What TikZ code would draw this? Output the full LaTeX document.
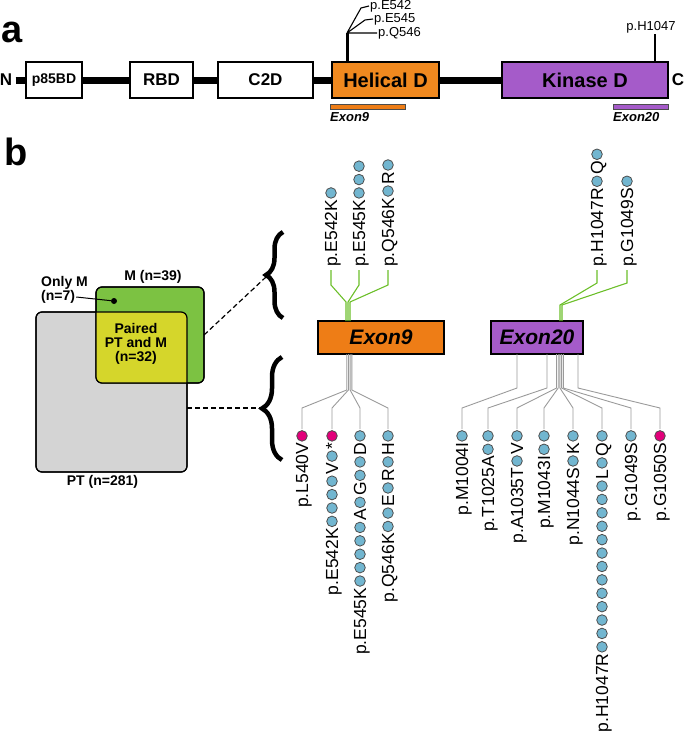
\documentclass[tikz,border=0pt]{standalone}
\usepackage{fontspec}
\setmainfont{Liberation Sans}
\usetikzlibrary{positioning,decorations.pathreplacing}

\definecolor{helorange}{HTML}{F0891F}
\definecolor{exorange}{HTML}{EE7D16}
\definecolor{kinpurple}{HTML}{A55BC9}
\definecolor{mgreen}{HTML}{7CC242}
\definecolor{pairyellow}{HTML}{D5D62B}
\definecolor{ptgray}{HTML}{D4D4D4}
\definecolor{dotblue}{HTML}{72B6D0}
\definecolor{dotpink}{HTML}{E2007A}
\definecolor{linegreen}{HTML}{6CBF2A}
\definecolor{linegray}{HTML}{9A9A9A}

% one sample = one dot
\newcommand{\bluedot}{\kern1pt\tikz[baseline=-6pt]\draw[draw=black!70,line width=0.8pt,fill=dotblue] (0,0) circle (5.3pt);\kern1pt}
\newcommand{\pinkdot}{\kern1pt\tikz[baseline=-6pt]\draw[draw=black!70,line width=0.8pt,fill=dotpink] (0,0) circle (5.3pt);\kern1pt}

\begin{document}
\begin{tikzpicture}[
% Change style
	x=1pt, y=-1pt,
	font=\fontsize{13}{15}\selectfont,
	dom/.style={draw, line width=1.2pt, minimum height=36pt, inner sep=0pt, outer sep=0pt,
		font=\fontsize{17}{19}\selectfont\bfseries},
	exbar/.style={draw=black!70, line width=0.8pt, minimum height=5pt, inner sep=0pt, outer sep=0pt, anchor=north west},
	exbox/.style={draw, line width=1.2pt, minimum height=33pt, outer sep=0pt,
		font=\fontsize{21}{23}\selectfont\bfseries\itshape},
	venn/.style={draw, line width=1.2pt, rounded corners=6pt, outer sep=0pt, inner sep=0pt},
	lab/.style={font=\fontsize{14}{14}\selectfont\bfseries, align=center},
	mutcol/.style={rotate=90, inner sep=0pt, text height=12pt, text depth=0pt,
		font=\fontsize{17.5}{19}\selectfont},
	glin/.style={linegreen, line width=1.1pt},
	ylin/.style={linegray, line width=0.9pt},
	dashln/.style={dash pattern=on 5pt off 3pt, line width=1.2pt},
	bigbrace/.style={decorate, decoration={brace, amplitude=#1}, line width=4.5pt},
	]
\useasboundingbox (0,0) rectangle (685,736);

% Panel a
\node[font=\fontsize{38}{40}\selectfont\bfseries] (lbla) at (12,32) {a};
\node[font=\fontsize{17}{19}\selectfont\bfseries] (nterm) at (6,80) {N};
\node[dom, minimum width=56pt, font=\fontsize{14}{16}\selectfont\bfseries] (p85) at (54,80) {p85BD};
\node[dom, minimum width=63pt] (rbd) at (161.5,80) {RBD};
\node[dom, minimum width=95pt] (c2d) at (265.5,80) {C2D};
\node[dom, minimum width=107pt, fill=helorange, font=\fontsize{20}{22}\selectfont\bfseries] (hel) at (385.5,80) {Helical D};
\node[dom, minimum width=166pt, fill=kinpurple, font=\fontsize{20}{22}\selectfont\bfseries] (kin) at (585,80) {Kinase D};
\node[font=\fontsize{17}{19}\selectfont\bfseries] (cterm) at (678,80) {C};

% backbone
\draw[line width=7pt] (nterm) -- (p85) (p85) -- (rbd) (rbd) -- (c2d) (c2d) -- (hel) (hel) -- (kin);

% hotspots
\draw[line width=3pt] ([xshift=-38.5pt]hel.north) -- ++(0,-29) coordinate (stem);
\node[anchor=west, inner sep=1pt] (aE542) at (369,6) {p.E542};
\node[anchor=west, inner sep=1pt] (aE545) at (373,19) {p.E545};
\node[anchor=west, inner sep=1pt] (aQ546) at (377,33) {p.Q546};
\draw[line width=1.1pt] (stem) -- ++(14,-25) -- (aE542.west)
	(stem) -- ++(18,-13) -- (aE545.west)
	(stem) -- (aQ546.west);
\node[anchor=south, inner sep=1pt] (aH1047) at (651,34) {p.H1047};
\coordinate (hspot) at (655,62);
\draw[line width=1.1pt] (hspot) -- (hspot |- aH1047.south);

% exon bars
\node[exbar, fill=exorange, minimum width=75pt] (bar9) at (330,104) {};
\node[exbar, fill=kinpurple, minimum width=55pt] (bar20) at (613,104) {};
\node[below=3pt of bar9.south west, anchor=north west, inner sep=0pt, font=\fontsize{13}{15}\selectfont\bfseries\itshape] (txt9) {Exon9};
\node[below=3pt of bar20.south west, anchor=north west, inner sep=0pt, font=\fontsize{13}{15}\selectfont\bfseries\itshape] (txt20) {Exon20};

% Panel b
\node[font=\fontsize{38}{40}\selectfont\bfseries] (lblb) at (16,152) {b};

% Venn boxes
\node[venn, fill=ptgray, minimum width=151pt, minimum height=160pt] (pt) at (111.5,392) {};
\node[venn, fill=mgreen, minimum width=108pt, minimum height=96pt] (mset) at (150,335) {};
\begin{scope}
	\clip[rounded corners=6pt] (mset.north west) rectangle (mset.south east);
	\fill[pairyellow, rounded corners=6pt] (pt.north west) rectangle (pt.south east);
\end{scope}
\draw[line width=1.2pt, rounded corners=6pt] (pt.north west) rectangle (pt.south east)
	(mset.north west) rectangle (mset.south east);

\node[lab, above=0pt of mset, xshift=3pt] (mlab) {M (n=39)};
\node[lab, below=0pt of pt, xshift=-9pt] (ptlab) {PT (n=281)};
\node[lab] (pairlab) at (136,344) {Paired\\PT and M\\(n=32)};
\node[lab, anchor=west, inner sep=0pt] (onlyM) at (41,283) {Only M};
\node[lab, anchor=west, inner sep=0pt] (onlyn) at (41,297) {(n=7)};
\node[circle, fill, inner sep=0pt, minimum size=6pt] (onlydot) at (114,301) {};
\draw[line width=1pt] ([xshift=1pt]onlyn.east) -- (onlydot);

% braces
\draw[bigbrace=17pt] (283,318) -- (283,232);
\draw[bigbrace=20pt] (282,460) -- (282,357);
\coordinate (tipM) at (266,277);
\coordinate (tipPT) at (262,408);
\draw[dashln] (mset.east) -- (tipM);
\draw[dashln] (tipPT -| pt.east) -- (tipPT);

% Exon boxes
\node[exbox, fill=exorange, minimum width=126pt] (ex9) at (381,337.5) {Exon9};
\node[exbox, fill=kinpurple, minimum width=92pt] (ex20) at (537,337.5) {Exon20};

% metastasis mutations (above)
\node[mutcol, anchor=west, inner xsep=3pt] (up542) at (331,270) {p.E542K\bluedot};
\node[mutcol, anchor=west, inner xsep=3pt] (up545) at (359,270) {p.E545K\bluedot\bluedot\bluedot};
\node[mutcol, anchor=west, inner xsep=3pt] (up546) at (388,270) {p.Q546K\bluedot R\bluedot};
\node[mutcol, anchor=west, inner xsep=3pt] (up1047) at (597,270) {p.H1047R\bluedot Q\bluedot};
\node[mutcol, anchor=west, inner xsep=3pt] (up1049) at (627,270) {p.G1049S\bluedot};

\foreach \dx/\nm in {-35pt/up542, -33pt/up545, -31pt/up546}
	\draw[glin] ([xshift=\dx]ex9.north) -- ++(0,-19) -- ([yshift=-15pt]\nm.west) -- (\nm.west);
\foreach \dx/\nm in {23pt/up1047, 25pt/up1049}
	\draw[glin] ([xshift=\dx]ex20.north) -- ++(0,-16) -- ([yshift=-13pt]\nm.west) -- (\nm.west);

% primary tumour mutations (below)
\node[mutcol, anchor=east] (dn540) at (302,429) {p.L540V\pinkdot};
\node[mutcol, anchor=east] (dn542) at (332,429) {p.E542K\bluedot\bluedot\bluedot\bluedot V\bluedot *\pinkdot};
\node[mutcol, anchor=east] (dn545) at (360,429) {p.E545K\bluedot\bluedot\bluedot\bluedot\bluedot A\bluedot G\bluedot\bluedot D\bluedot};
\node[mutcol, anchor=east] (dn546) at (388,429) {p.Q546K\bluedot\bluedot E\bluedot R\bluedot H\bluedot};

\node[mutcol, anchor=east] (dn1004) at (462,429) {p.M1004I\bluedot};
\node[mutcol, anchor=east] (dn1025) at (488,429) {p.T1025A\bluedot\bluedot};
\node[mutcol, anchor=east] (dn1035) at (517,429) {p.A1035T\bluedot V\bluedot};
\node[mutcol, anchor=east] (dn1043) at (544,429) {p.M1043I\bluedot\bluedot};
\node[mutcol, anchor=east] (dn1044) at (573,429) {p.N1044S\bluedot K\bluedot};
\node[mutcol, anchor=east] (dn1047) at (602,429) {p.H1047R\bluedot\bluedot\bluedot\bluedot\bluedot\bluedot\bluedot\bluedot\bluedot\bluedot\bluedot\bluedot\bluedot L\bluedot Q\bluedot};
\node[mutcol, anchor=east] (dn1049) at (631,429) {p.G1049S\bluedot};
\node[mutcol, anchor=east] (dn1050) at (660,429) {p.G1050S\pinkdot};

\foreach \dx/\nm in {-34.3pt/dn540, -32.6pt/dn542, -30.9pt/dn545, -29.2pt/dn546}
	\draw[ylin] ([xshift=\dx]ex9.south) -- ++(0,36) -- ([yshift=21pt]\nm.east) -- (\nm.east);
\foreach \dx/\nm in {-20pt/dn1004, 10pt/dn1025, 19.5pt/dn1035, 21.2pt/dn1043, 22.9pt/dn1044, 24.6pt/dn1047, 26.3pt/dn1049, 41pt/dn1050}
	\draw[ylin] ([xshift=\dx]ex20.south) -- ++(0,34) -- ([yshift=21pt]\nm.east) -- (\nm.east);

\end{tikzpicture}
\end{document}
